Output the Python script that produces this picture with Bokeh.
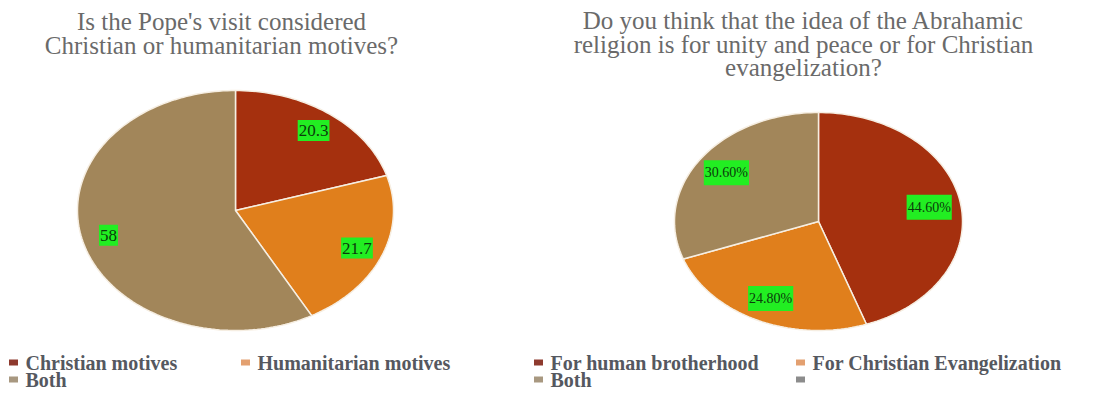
import math
from bokeh.plotting import figure
from bokeh.models import Range1d, ColumnDataSource
from bokeh.core.properties import value
from bokeh.embed import file_html
from bokeh.resources import INLINE

# ---------------- data ----------------
q1_title = ["Is the Pope's visit considered", "Christian or humanitarian motives?"]
q1_categories = ["Christian motives", "Humanitarian motives", "Both"]
q1_values = [20.3, 21.7, 58]
q1_labels = ["20.3", "21.7", "58"]

q2_title = ["Do you think that the idea of the Abrahamic",
            "religion is for unity and peace or for Christian",
            "evangelization?"]
q2_categories = ["For human brotherhood", "For Christian Evangelization", "Both", ""]
q2_values = [44.6, 24.8, 30.6]
q2_labels = ["44.60%", "24.80%", "30.60%"]

slice_colors = ["#A5300E", "#E07F1C", "#A2865A"]
legend_colors = ["#8E3A2E", "#E3A070", "#A89880", "#8C8C8C"]

W, H = 1097, 389

p = figure(width=W, height=H, output_backend="svg", toolbar_location=None,
           x_range=Range1d(0, W), y_range=Range1d(H, 0),
           min_border=0, outline_line_color=None)
p.axis.visible = False
p.grid.visible = False
p.background_fill_color = "white"

SERIF = value("Liberation Serif")


def draw_pie(values, labels, cx, cy, rx, ry, label_frac, label_size):
    total = float(sum(values))
    xs, ys = [], []
    lx, ly = [], []
    start = 0.0
    for v in values:
        end = start + v / total * 2 * math.pi
        n = max(8, int((end - start) / (2 * math.pi) * 240))
        px, py = [cx], [cy]
        for i in range(n + 1):
            t = start + (end - start) * i / n
            px.append(cx + rx * math.sin(t))
            py.append(cy - ry * math.cos(t))
        xs.append(px)
        ys.append(py)
        mid = (start + end) / 2
        lx.append(cx + rx * label_frac * math.sin(mid))
        ly.append(cy - ry * label_frac * math.cos(mid))
        start = end
    src = ColumnDataSource(dict(xs=xs, ys=ys, color=slice_colors[:len(values)]))
    p.patches("xs", "ys", source=src, fill_color="color", line_color="#F6EEE2",
              line_width=1.5)
    lsrc = ColumnDataSource(dict(x=lx, y=ly, t=labels))
    p.text("x", "y", text="t", source=lsrc, text_align="center",
           text_baseline="middle", text_font=SERIF,
           text_font_size=label_size, text_color="#0B3B0B",
           background_fill_color="#22EE22", padding=(1, 5))


def draw_title(lines, cx, y_first, step):
    ys = [y_first + i * step for i in range(len(lines))]
    src = ColumnDataSource(dict(x=[cx] * len(lines), y=ys, t=lines))
    p.text("x", "y", text="t", source=src, text_align="center",
           text_baseline="middle", text_font=SERIF, text_font_size="25px",
           text_color="#6A6A6A")


def draw_legend(cats, col_x, row_y):
    mx, my, tx, ty, tt, cc = [], [], [], [], [], []
    for i, c in enumerate(cats):
        col, row = i % 2, i // 2
        mx.append(col_x[col])
        my.append(row_y[row])
        cc.append(legend_colors[i] if i < 3 else legend_colors[3])
        tx.append(col_x[col] + 12)
        ty.append(row_y[row])
        tt.append(c)
    p.rect(mx, my, width=9, height=6, width_units="screen",
           height_units="screen", fill_color=cc, line_color=None)
    src = ColumnDataSource(dict(x=tx, y=ty, t=tt))
    p.text("x", "y", text="t", source=src, text_align="left",
           text_baseline="middle", text_font=SERIF,
           text_font_size="20px", text_font_style="bold",
           text_color="#555860")


draw_pie(q1_values, q1_labels, 235, 210, 158, 120, 0.83, "17px")
draw_pie(q2_values, q2_labels, 818, 221, 144, 109, 0.78, "14px")

draw_title(q1_title, 221, 21, 23.5)
draw_title(q2_title, 803, 20, 23.5)

draw_legend(q1_categories, [13, 245], [362, 379])
draw_legend(q2_categories, [538, 800], [362, 379])

open("out.html", "w").write(file_html(p, INLINE))
